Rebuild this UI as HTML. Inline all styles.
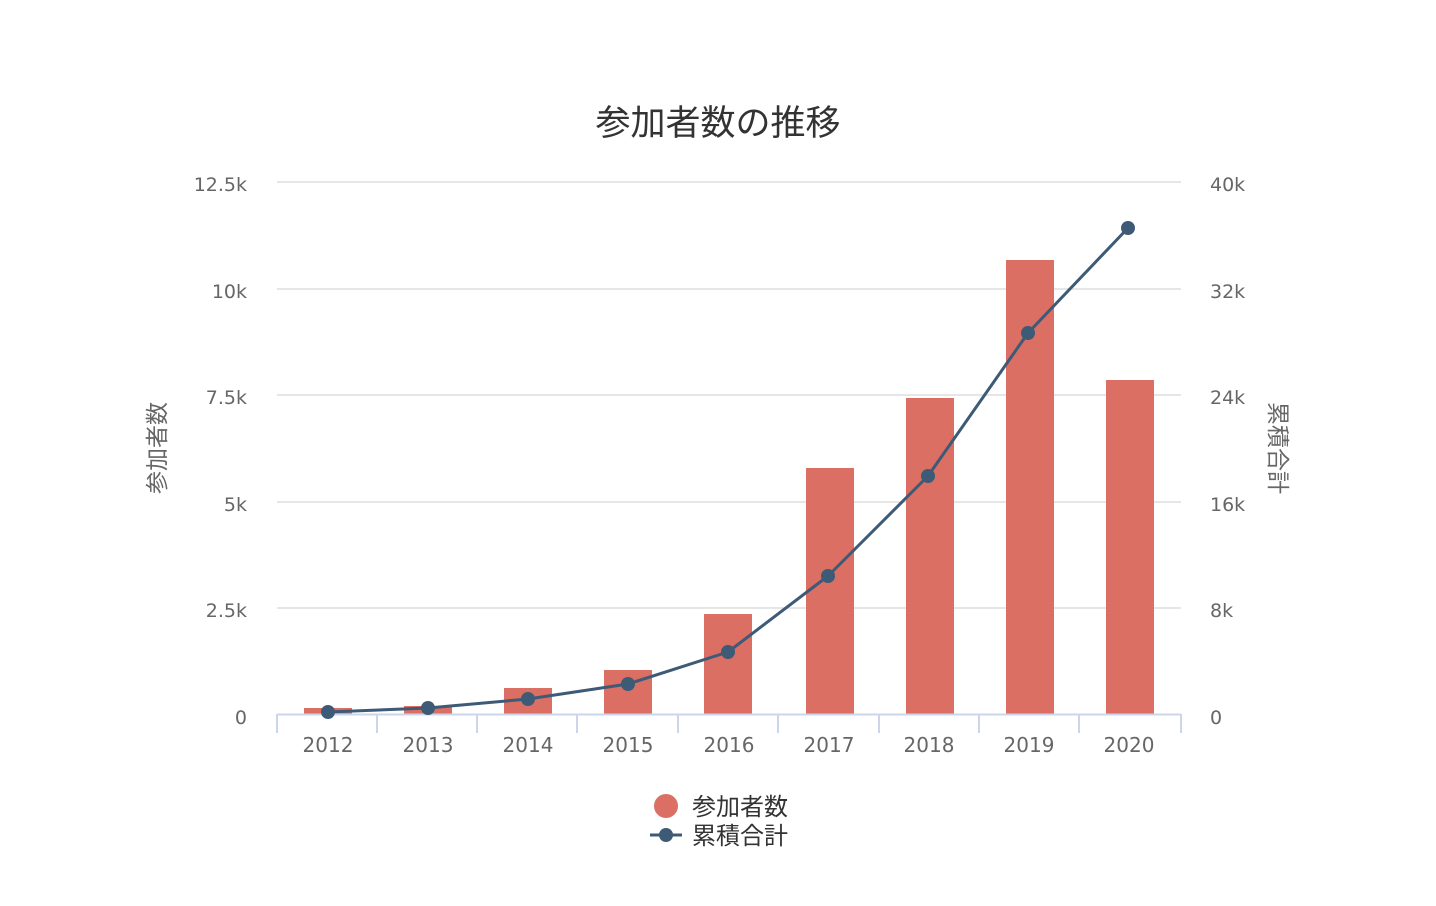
<!DOCTYPE html>
<html><head><meta charset="utf-8"><style>
html,body{margin:0;padding:0;background:#fff;}
svg{display:block;font-family:"Liberation Sans","Noto Sans CJK JP",sans-serif;}
.t{font-family:"DejaVu Sans","Noto Sans CJK JP",sans-serif;}
</style></head><body>
<svg width="1436" height="906" viewBox="0 0 1436 906" xmlns="http://www.w3.org/2000/svg">
<rect width="1436" height="906" fill="#fff"/>
<text x="718" y="135" text-anchor="middle" font-size="35" fill="#333">参加者数の推移</text>
<g stroke="#e6e6e6" stroke-width="2">
<line x1="277" y1="182" x2="1181" y2="182"/>
<line x1="277" y1="289" x2="1181" y2="289"/>
<line x1="277" y1="395" x2="1181" y2="395"/>
<line x1="277" y1="502" x2="1181" y2="502"/>
<line x1="277" y1="608" x2="1181" y2="608"/>
</g>
<g class="t" font-size="19" fill="#666" text-anchor="end">
<text x="247" y="191">12.5k</text>
<text x="247" y="298">10k</text>
<text x="247" y="404">7.5k</text>
<text x="247" y="511">5k</text>
<text x="247" y="617">2.5k</text>
<text x="247" y="724">0</text>
</g>
<g class="t" font-size="19" fill="#666" text-anchor="start">
<text x="1210" y="191">40k</text>
<text x="1210" y="298">32k</text>
<text x="1210" y="404">24k</text>
<text x="1210" y="511">16k</text>
<text x="1210" y="617">8k</text>
<text x="1210" y="724">0</text>
</g>
<text transform="translate(165,448) rotate(-90)" text-anchor="middle" font-size="23" fill="#666">参加者数</text>
<text transform="translate(1270,448) rotate(90)" text-anchor="middle" font-size="23" fill="#666">累積合計</text>
<g fill="#dc6f63">
<rect x="304" y="708" width="48" height="6"/>
<rect x="404" y="706" width="48" height="8"/>
<rect x="504" y="688" width="48" height="26"/>
<rect x="604" y="670" width="48" height="44"/>
<rect x="704" y="614" width="48" height="100"/>
<rect x="806" y="468" width="48" height="246"/>
<rect x="906" y="398" width="48" height="316"/>
<rect x="1006" y="260" width="48" height="454"/>
<rect x="1106" y="380" width="48" height="334"/>
</g>
<line x1="277" y1="714.5" x2="1181" y2="714.5" stroke="#ccd6eb" stroke-width="2"/>
<g stroke="#ccd6eb" stroke-width="2">
<line x1="277" y1="714" x2="277" y2="733"/><line x1="377" y1="714" x2="377" y2="733"/>
<line x1="477" y1="714" x2="477" y2="733"/><line x1="577" y1="714" x2="577" y2="733"/>
<line x1="678" y1="714" x2="678" y2="733"/><line x1="778" y1="714" x2="778" y2="733"/>
<line x1="879" y1="714" x2="879" y2="733"/><line x1="979" y1="714" x2="979" y2="733"/>
<line x1="1079" y1="714" x2="1079" y2="733"/><line x1="1181" y1="714" x2="1181" y2="733"/>
</g>
<g class="t" font-size="20" fill="#666" text-anchor="middle">
<text x="328" y="752">2012</text><text x="428" y="752">2013</text><text x="528" y="752">2014</text>
<text x="628" y="752">2015</text><text x="729" y="752">2016</text><text x="829" y="752">2017</text>
<text x="929" y="752">2018</text><text x="1029" y="752">2019</text><text x="1129" y="752">2020</text>
</g>
<polyline fill="none" stroke="#3d5a76" stroke-width="3" stroke-linejoin="round" points="328,712 428,708 528,699 628,684 728,652 828,576 928,476 1028,333 1128,228"/>
<g fill="#3d5a76">
<circle cx="328" cy="712" r="7"/><circle cx="428" cy="708" r="7"/><circle cx="528" cy="699" r="7"/>
<circle cx="628" cy="684" r="7"/><circle cx="728" cy="652" r="7"/><circle cx="828" cy="576" r="7"/>
<circle cx="928" cy="476" r="7"/><circle cx="1028" cy="333" r="7"/><circle cx="1128" cy="228" r="7"/>
</g>
<circle cx="666" cy="806" r="12" fill="#dc6f63"/>
<text x="692" y="815" font-size="24" fill="#333">参加者数</text>
<line x1="650" y1="835" x2="682" y2="835" stroke="#3d5a76" stroke-width="3"/>
<circle cx="666" cy="835" r="7" fill="#3d5a76"/>
<text x="692" y="844" font-size="24" fill="#333">累積合計</text>
</svg>
</body></html>
